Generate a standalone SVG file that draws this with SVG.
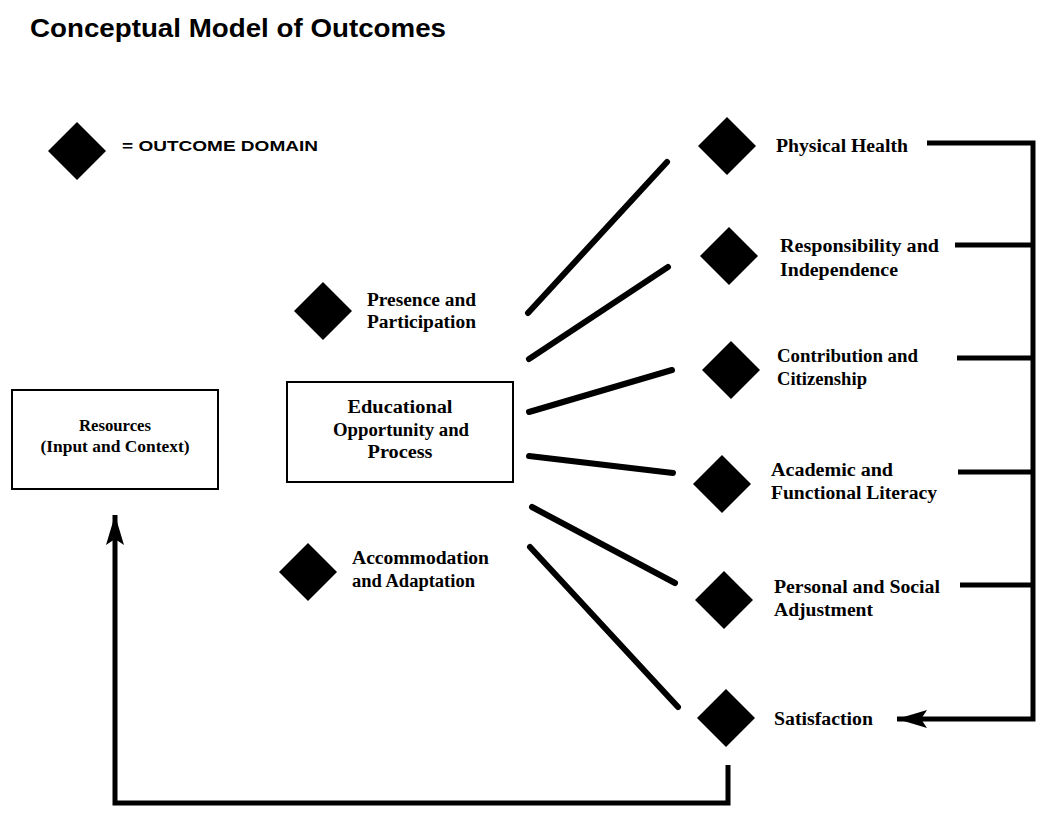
<svg xmlns="http://www.w3.org/2000/svg" width="1042" height="813" viewBox="0 0 1042 813">
<defs>
<style>
.title{font-family:"Liberation Sans",Arial,sans-serif;font-weight:bold;font-size:26px;fill:#000}
.legend{font-family:"Liberation Sans",Arial,sans-serif;font-weight:bold;font-size:14px;fill:#000}
.lbl{font-family:"Liberation Serif","Times New Roman",serif;font-weight:bold;font-size:18.5px;fill:#000}
.lbls{font-family:"Liberation Serif","Times New Roman",serif;font-weight:bold;font-size:16px;fill:#000}
.dia{fill:#000}
.box{fill:#fff;stroke:#000;stroke-width:2}
.spoke{stroke:#000;stroke-width:6;stroke-linecap:round;fill:none}
.conn{stroke:#000;stroke-width:5;fill:none;stroke-linejoin:miter}
</style>
<marker id="arr" viewBox="0 0 30 18" refX="30" refY="9" markerWidth="30" markerHeight="18" markerUnits="userSpaceOnUse" orient="auto">
<path d="M0,0 L30,9 L0,18 L6,9 Z" fill="#000"/>
</marker>
<polygon id="dm" points="0,-29 29,0 0,29 -29,0"/>
</defs>
<rect width="1042" height="813" fill="#fff"/>
<text class="title" x="30" y="37" textLength="416" lengthAdjust="spacingAndGlyphs">Conceptual Model of Outcomes</text>

<g id="legend">
<use href="#dm" class="dia" x="77" y="151"/>
<text class="legend" x="122" y="151" textLength="196" lengthAdjust="spacingAndGlyphs">= OUTCOME DOMAIN</text>
</g>

<g id="resources">
<rect class="box" x="12" y="390" width="206" height="99"/>
<text class="lbls" x="115" y="431" text-anchor="middle" textLength="72" lengthAdjust="spacingAndGlyphs">Resources</text>
<text class="lbls" x="115" y="452" text-anchor="middle" textLength="149" lengthAdjust="spacingAndGlyphs">(Input and Context)</text>
</g>

<g id="educational">
<rect class="box" x="287" y="382" width="226" height="100"/>
<text class="lbl" x="400" y="413" text-anchor="middle" textLength="105" lengthAdjust="spacingAndGlyphs">Educational</text>
<text class="lbl" x="401" y="436" text-anchor="middle" textLength="136" lengthAdjust="spacingAndGlyphs">Opportunity and</text>
<text class="lbl" x="400" y="458" text-anchor="middle" textLength="65" lengthAdjust="spacingAndGlyphs">Process</text>
</g>

<g id="presence">
<use href="#dm" class="dia" x="323" y="311"/>
<text class="lbl" x="367" y="306" textLength="109" lengthAdjust="spacingAndGlyphs">Presence and</text>
<text class="lbl" x="367" y="328" textLength="109" lengthAdjust="spacingAndGlyphs">Participation</text>
</g>

<g id="accommodation">
<use href="#dm" class="dia" x="308" y="572"/>
<text class="lbl" x="352" y="564" textLength="137" lengthAdjust="spacingAndGlyphs">Accommodation</text>
<text class="lbl" x="352" y="587" textLength="123" lengthAdjust="spacingAndGlyphs">and Adaptation</text>
</g>

<g id="physical-health">
<use href="#dm" class="dia" x="727" y="146"/>
<text class="lbl" x="776" y="152" textLength="132" lengthAdjust="spacingAndGlyphs">Physical Health</text>
</g>

<g id="responsibility">
<use href="#dm" class="dia" x="729" y="256"/>
<text class="lbl" x="780" y="252" textLength="159" lengthAdjust="spacingAndGlyphs">Responsibility and</text>
<text class="lbl" x="780" y="276" textLength="118" lengthAdjust="spacingAndGlyphs">Independence</text>
</g>

<g id="contribution">
<use href="#dm" class="dia" x="731" y="370"/>
<text class="lbl" x="777" y="362" textLength="141" lengthAdjust="spacingAndGlyphs">Contribution and</text>
<text class="lbl" x="777" y="385" textLength="90" lengthAdjust="spacingAndGlyphs">Citizenship</text>
</g>

<g id="academic">
<use href="#dm" class="dia" x="722" y="484"/>
<text class="lbl" x="771" y="476" textLength="122" lengthAdjust="spacingAndGlyphs">Academic and</text>
<text class="lbl" x="771" y="499" textLength="166" lengthAdjust="spacingAndGlyphs">Functional Literacy</text>
</g>

<g id="personal">
<use href="#dm" class="dia" x="724" y="600"/>
<text class="lbl" x="774" y="593" textLength="166" lengthAdjust="spacingAndGlyphs">Personal and Social</text>
<text class="lbl" x="774" y="616" textLength="99" lengthAdjust="spacingAndGlyphs">Adjustment</text>
</g>

<g id="satisfaction">
<use href="#dm" class="dia" x="726" y="718"/>
<text class="lbl" x="774" y="725" textLength="99" lengthAdjust="spacingAndGlyphs">Satisfaction</text>
</g>

<g id="connectors">
<line class="spoke" x1="528" y1="313" x2="667" y2="162"/>
<line class="spoke" x1="529" y1="359" x2="668" y2="267"/>
<line class="spoke" x1="529" y1="412" x2="672" y2="370"/>
<line class="spoke" x1="529" y1="456" x2="673" y2="473"/>
<line class="spoke" x1="532" y1="507" x2="675" y2="583"/>
<line class="spoke" x1="530" y1="547" x2="678" y2="707"/>

<path class="conn" d="M927,143 H1033 V719 H897" marker-end="url(#arr)"/>
<line class="conn" x1="955" y1="245" x2="1033" y2="245"/>
<line class="conn" x1="957" y1="358" x2="1033" y2="358"/>
<line class="conn" x1="958" y1="472" x2="1033" y2="472"/>
<line class="conn" x1="960" y1="585" x2="1033" y2="585"/>

<path class="conn" d="M728,765 V803 H115 V515" marker-end="url(#arr)"/>
</g>
</svg>
